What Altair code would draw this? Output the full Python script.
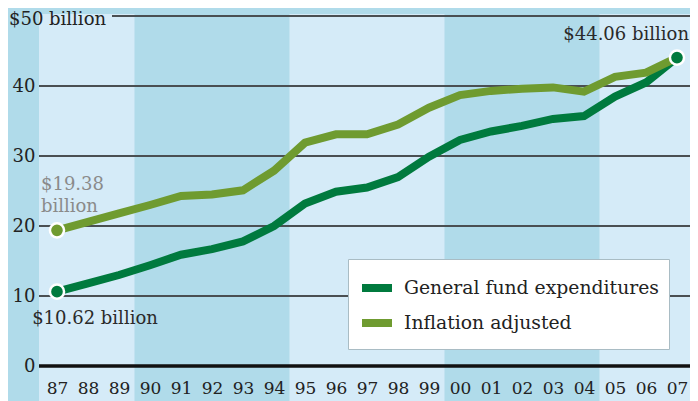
import altair as alt
import pandas as pd

# ---- data ----
years = list(range(1987, 2008))
general = [10.62, 11.8, 13.0, 14.4, 15.9, 16.7, 17.8, 20.0, 23.2, 24.9, 25.5, 27.0,
           29.9, 32.3, 33.5, 34.3, 35.3, 35.7, 38.5, 40.5, 44.06]
inflation = [19.38, 20.6, 21.8, 23.0, 24.3, 24.5, 25.1, 27.9, 31.9, 33.1, 33.1, 34.5,
             36.9, 38.7, 39.3, 39.6, 39.8, 39.2, 41.3, 41.9, 44.06]
series_names = ["General fund expenditures", "Inflation adjusted"]
series_colors = ["#007a3e", "#6f9b30"]
y_ticks = [0, 10, 20, 30, 40]
grid_values = [10, 20, 30, 40]
band_start = [1986.42, 1994.5, 2004.5]
band_end = [1989.5, 1999.5, 2007.42]

FONT = "DejaVu Serif"
W, H = 651, 350
x_domain = [1986.42, 2007.42]

df = pd.DataFrame({
    "year": years * 2,
    "value": general + inflation,
    "series": [series_names[0]] * len(years) + [series_names[1]] * len(years),
})
bands = pd.DataFrame({"start": band_start, "end": band_end})
grid = pd.DataFrame({"value": grid_values})

xs = alt.Scale(domain=x_domain, nice=False, zero=False)
ys = alt.Scale(domain=[0, 50], nice=False)
cs = alt.Scale(domain=series_names, range=series_colors)

x_axis = alt.Axis(values=years, labelExpr="slice(toString(datum.value), 2)",
                  domain=False, ticks=False, grid=False, title=None,
                  labelFont=FONT, labelFontSize=17, labelColor="#222222",
                  labelPadding=14, labelFlush=False, zindex=2)
y_axis = alt.Axis(values=y_ticks, domain=False, ticks=False, grid=False, title=None,
                  labelFont=FONT, labelFontSize=18, labelColor="#222222",
                  labelPadding=4, zindex=2)


def X(field):
    return alt.X(field, scale=xs, axis=x_axis, title=None)


def Y(field):
    return alt.Y(field, scale=ys, axis=y_axis, title=None)


band_layer = alt.Chart(bands).mark_rect(color="#d5ebf8").encode(
    x=X("start:Q"),
    x2="end:Q",
    y=alt.value(-2),
    y2=alt.value(H + 35),
)

grid_layer = alt.Chart(grid).mark_rule(color="#4a4f52", strokeWidth=2).encode(
    y=Y("value:Q"),
    x=alt.value(0),
    x2=alt.value(W),
)
top_rule = alt.Chart(pd.DataFrame({"value": [50]})).mark_rule(color="#4a4f52", strokeWidth=2).encode(
    y=Y("value:Q"),
    x=alt.value(73),
    x2=alt.value(W),
)
zero_rule = alt.Chart(pd.DataFrame({"value": [0]})).mark_rule(color="#111111", strokeWidth=3.5).encode(
    y=Y("value:Q"),
    x=alt.value(0),
    x2=alt.value(W),
)
top_label = alt.Chart(pd.DataFrame({"value": [50], "t": ["$50 billion"]})).mark_text(
    align="left", baseline="middle", font=FONT, fontSize=18, color="#222222", dy=4
).encode(
    y=Y("value:Q"),
    x=alt.value(-30),
    text="t:N",
)

lines = alt.Chart(df).mark_line(strokeWidth=8, strokeJoin="miter").encode(
    x=X("year:Q"),
    y=Y("value:Q"),
    color=alt.Color("series:N", scale=cs, sort=series_names,
                    legend=alt.Legend(title=None, orient="none", legendX=309, legendY=243,
                                      symbolType="stroke", symbolStrokeWidth=8, symbolSize=900,
                                      labelFont=FONT, labelFontSize=18.8, labelColor="#222222",
                                      labelLimit=0, labelOffset=8, rowPadding=0, padding=10,
                                      fillColor="white", strokeColor="#a9bcc4",
                                      cornerRadius=0)),
    order=alt.Order("series:N", sort="descending"),
)

pts_df = pd.DataFrame({
    "year": [years[0], years[0], years[-1]],
    "value": [inflation[0], general[0], general[-1]],
    "series": [series_names[1], series_names[0], series_names[0]],
})
points = alt.Chart(pts_df).mark_circle(size=200, opacity=1, stroke="white", strokeWidth=2.5).encode(
    x=X("year:Q"),
    y=Y("value:Q"),
    color=alt.Color("series:N", scale=cs, sort=series_names, legend=None),
)


def ann(year, value, text, dx, dy, align, color):
    d = pd.DataFrame({"year": [year], "value": [value], "t": [text]})
    return alt.Chart(d).mark_text(align=align, baseline="middle", dx=dx, dy=dy, font=FONT,
                                  fontSize=18, color=color, lineBreak="\n", lineHeight=22).encode(
        x=X("year:Q"),
        y=Y("value:Q"),
        text="t:N",
    )


a1 = ann(years[0], general[0], "$10.62 billion", 38, 27, "center", "#2a2a2a")
a2 = ann(years[0], inflation[0], "$19.38\nbillion", -16, -45, "left", "#8a8a8a")
a3 = ann(years[-1], general[-1], "$44.06 billion", 12, -23, "right", "#2a2a2a")

chart = alt.layer(
    band_layer, grid_layer, top_rule, zero_rule, lines, points, a1, a2, a3, top_label
).properties(
    width=W, height=H,
    background="#b0dbea",
    padding={"left": 31, "top": 8, "right": 0, "bottom": 35},
    autosize=alt.AutoSizeParams(type="none"),
).configure_view(stroke=None)

chart.save("out.html", embed_options={"renderer": "svg", "actions": False})
